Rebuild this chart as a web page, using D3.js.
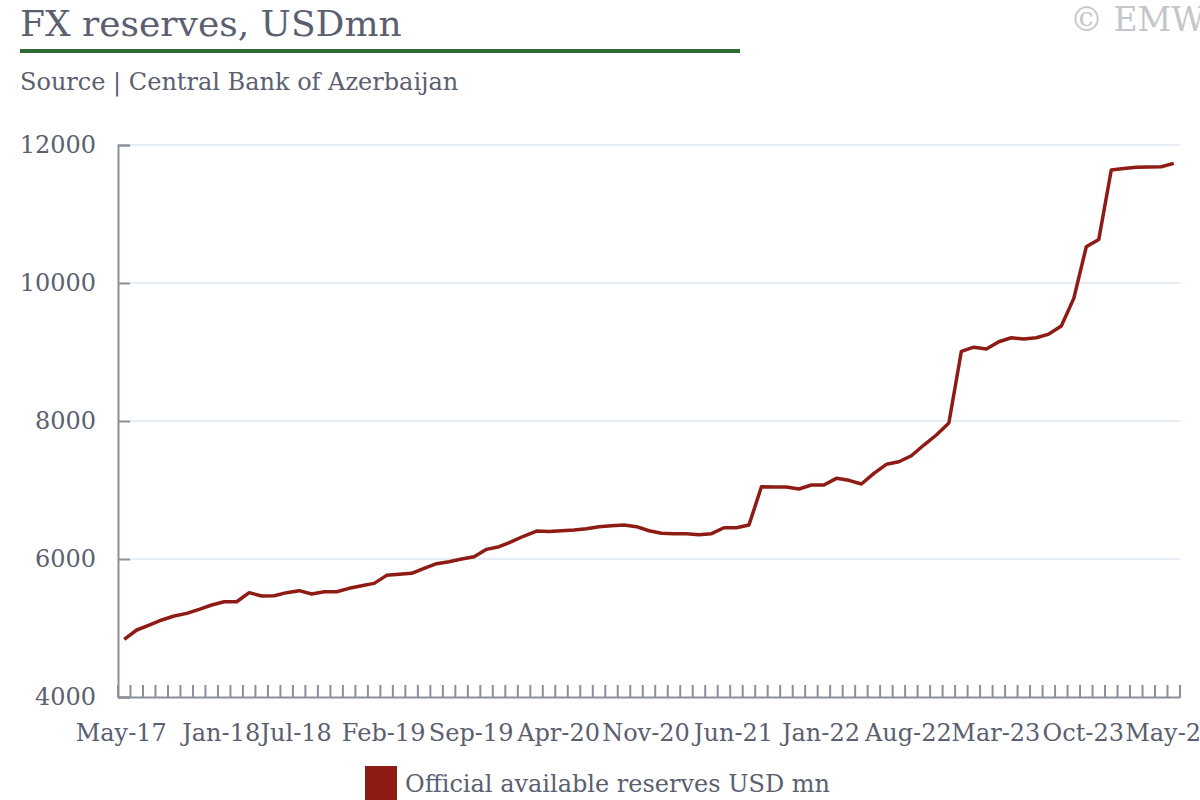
<!DOCTYPE html>
<html>
<head>
<meta charset="utf-8">
<script src="https://cdn.jsdelivr.net/npm/d3@7"></script>
<style>
  body { margin: 0; background: #fff; }
  svg { display: block; font-family: "DejaVu Serif", serif; }
</style>
</head>
<body>
<svg id="chart" width="1200" height="800"></svg>
<script>
(function() {

    // monthly categories, May-17 .. May-24
    var fmt = d3.timeFormat('%b-%y');
    var months = d3.timeMonth.range(new Date(2017, 4, 1), new Date(2024, 5, 1)).map(fmt);

    var tickLabels = ['May-17', 'Jan-18', 'Jul-18', 'Feb-19', 'Sep-19', 'Apr-20', 'Nov-20',
        'Jun-21', 'Jan-22', 'Aug-22', 'Mar-23', 'Oct-23', 'May-24'];

    var yTicks = [4000, 6000, 8000, 10000, 12000];

    var seriesName = 'Official available reserves USD mn';
    var reserves = [
        4836, 4971, 5043, 5116, 5174, 5212, 5270, 5333, 5381, 5381,
        5512, 5463, 5468, 5512, 5541, 5493, 5526, 5526, 5575, 5613,
        5647, 5763, 5780, 5792, 5865, 5932, 5961, 6000, 6033, 6140,
        6178, 6251, 6333, 6405, 6400, 6410, 6420, 6439, 6468, 6482,
        6492, 6468, 6410, 6372, 6367, 6367, 6352, 6367, 6453, 6453,
        6492, 7046, 7043, 7043, 7014, 7072, 7072, 7169, 7140, 7087,
        7241, 7372, 7410, 7497, 7652, 7797, 7970, 9010, 9070, 9043,
        9149, 9207, 9188, 9207, 9260, 9376, 9777, 10525, 10632, 11637,
        11661, 11676, 11680, 11685, 11733
    ];

    var data = months.map(function(m, i) {
        return { m: m, v: reserves[i] };
    });

    var textCol = '#5b6070',
        axisCol = '#8a8f99',
        gridCol = '#dde6ef',
        lineCol = '#8e1c14',
        x0 = 118, x1 = 1180,
        y0 = 697, y1 = 145;

    var svg = d3.select('#chart');

    // header
    svg.append('text')
        .attr('x', 20).attr('y', 36)
        .attr('fill', textCol)
        .style('font-size', '36px')
        .text('FX reserves, USDmn');

    svg.append('rect')
        .attr('x', 20).attr('y', 49)
        .attr('width', 720).attr('height', 4)
        .attr('fill', '#2e6a31');

    svg.append('text')
        .attr('x', 20).attr('y', 90)
        .attr('fill', textCol)
        .style('font-size', '24px')
        .text('Source | Central Bank of Azerbaijan');

    svg.append('text')
        .attr('x', 1070).attr('y', 31)
        .attr('fill', '#c4c6ca')
        .style('font-size', '33px')
        .text('\u00a9 EMW');

    var x = d3.scaleBand()
        .domain(months)
        .range([x0, x1]);

    var y = d3.scaleLinear()
        .domain([4000, 12000])
        .range([y0, y1]);

    // grid
    svg.append('g')
        .selectAll('line')
        .data(yTicks.slice(1))
        .enter()
        .append('line')
        .attr('x1', x0 + 12).attr('x2', x1)
        .attr('y1', function(d) { return y(d); })
        .attr('y2', function(d) { return y(d); })
        .attr('stroke', gridCol)
        .attr('stroke-width', 1.5);

    // y axis
    var yAxis = svg.append('g')
        .attr('transform', 'translate(' + x0 + ',0)')
        .call(d3.axisRight(y).tickValues(yTicks).tickSize(12).tickFormat(d3.format('d')));
    yAxis.select('.domain').attr('stroke', axisCol).attr('stroke-width', 2);
    yAxis.selectAll('.tick line').attr('stroke', axisCol).attr('stroke-width', 2);
    yAxis.selectAll('.tick text')
        .attr('x', -22)
        .attr('text-anchor', 'end')
        .attr('fill', textCol)
        .style('font-size', '24px')
        .style('font-family', '"DejaVu Serif", serif');

    // x axis: minor ticks at band edges
    var edges = months.map(function(m) { return x(m); }).concat([x1]);
    svg.append('g')
        .selectAll('line')
        .data(edges)
        .enter()
        .append('line')
        .attr('x1', function(d) { return d; })
        .attr('x2', function(d) { return d; })
        .attr('y1', y0)
        .attr('y2', y0 - 12)
        .attr('stroke', axisCol)
        .attr('stroke-width', 2);

    var xAxis = svg.append('g')
        .attr('transform', 'translate(0,' + y0 + ')')
        .call(d3.axisBottom(x).tickValues(tickLabels).tickSize(0));
    xAxis.select('.domain').attr('stroke', axisCol).attr('stroke-width', 2);
    xAxis.selectAll('.tick text')
        .attr('y', 27)
        .attr('dx', -3)
        .attr('fill', textCol)
        .style('font-size', '24px')
        .style('font-family', '"DejaVu Serif", serif');

    // line
    var line = d3.line()
        .x(function(d) { return x(d.m) + x.bandwidth() / 2; })
        .y(function(d) { return y(d.v); });

    svg.append('path')
        .datum(data)
        .attr('d', line)
        .attr('fill', 'none')
        .attr('stroke', lineCol)
        .attr('stroke-width', 3.5)
        .attr('stroke-linejoin', 'round');

    // legend
    svg.append('rect')
        .attr('x', 365).attr('y', 766)
        .attr('width', 32).attr('height', 34)
        .attr('fill', lineCol);

    svg.append('text')
        .attr('x', 405).attr('y', 792)
        .attr('fill', textCol)
        .style('font-size', '24px')
        .text(seriesName);

})();
</script>
</body>
</html>
